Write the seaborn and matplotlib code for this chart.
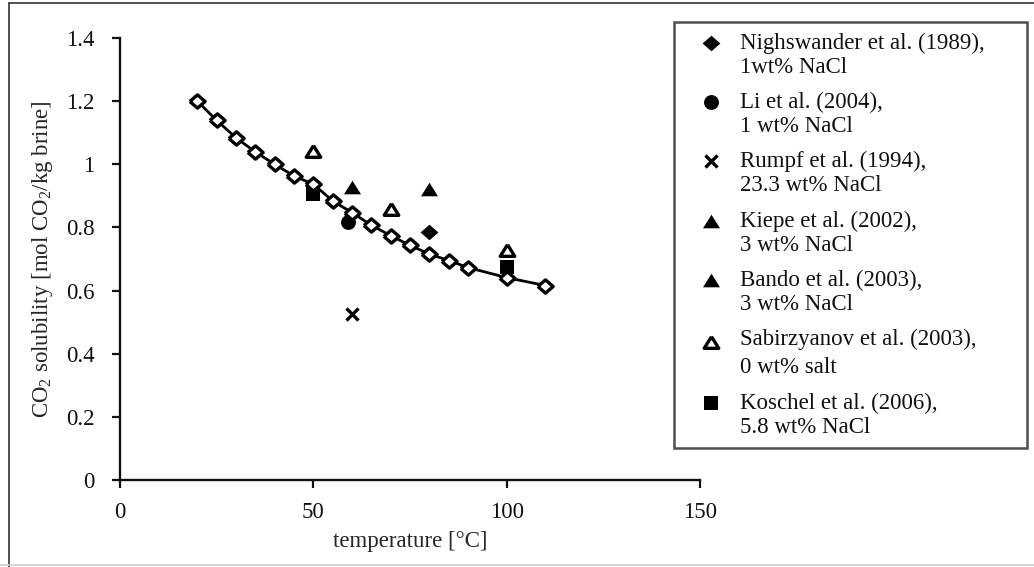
import matplotlib
matplotlib.use("Agg")
import matplotlib.pyplot as plt
import seaborn as sns
from matplotlib.lines import Line2D
from matplotlib.legend_handler import HandlerPathCollection

# Model curve: CO2 solubility vs temperature
model_t = [20, 25, 30, 35, 40, 45, 50, 55, 60, 65, 70, 75, 80, 85, 90, 100, 110]
model_s = [1.200, 1.139, 1.084, 1.039, 1.000, 0.963, 0.937, 0.884, 0.847,
           0.807, 0.774, 0.743, 0.716, 0.695, 0.673, 0.641, 0.616]

# Experimental data sets
nigh_t, nigh_s = [80], [0.784]
li_t, li_s = [59], [0.816]
rumpf_t, rumpf_s = [60], [0.527]
kiepe_t, kiepe_s = [80], [0.921]
bando_t, bando_s = [60], [0.927]
sabir_t, sabir_s = [50, 70, 100], [1.042, 0.858, 0.728]
kosch_t, kosch_s = [50, 100], [0.905, 0.676]

labels = [
    "Nighswander et al. (1989),\n1wt% NaCl",
    "Li et al. (2004),\n1 wt% NaCl",
    "Rumpf et al. (1994),\n23.3 wt% NaCl",
    "Kiepe et al. (2002),\n3 wt% NaCl",
    "Bando et al. (2003),\n3 wt% NaCl",
    "Sabirzyanov et al. (2003),\n0 wt% salt",
    "Koschel et al. (2006),\n5.8 wt% NaCl",
]

x_ticks = [0, 50, 100, 150]
y_ticks = [0, 0.2, 0.4, 0.6, 0.8, 1.0, 1.2, 1.4]
y_tick_labels = ["0", "0.2", "0.4", "0.6", "0.8", "1", "1.2", "1.4"]

# slightly wide diamond and triangle shapes
DIAMOND = [(-1.15, 0), (0, 1), (1.15, 0), (0, -1), (-1.15, 0)]
TRIANGLE = [(0, 1), (-1.25, -1), (1.25, -1), (0, 1)]


class FirstLineHandler(HandlerPathCollection):
    """Place the legend marker level with the first line of a two-line label."""

    def get_ydata(self, legend, xdescent, ydescent, width, height, fontsize):
        y = super().get_ydata(legend, xdescent, ydescent, width, height, fontsize)
        return [v + 0.62 * fontsize for v in y]


sns.set_style("ticks")
plt.rcParams["font.family"] = ["Liberation Serif", "DejaVu Serif"]
plt.rcParams["mathtext.fontset"] = "custom"
plt.rcParams["mathtext.rm"] = "Liberation Serif"
plt.rcParams["mathtext.it"] = "Liberation Serif:italic"
plt.rcParams["text.color"] = "#111111"

W, H = 1034, 567
fig = plt.figure(figsize=(W / 100, H / 100), dpi=100)
ax = fig.add_axes([120 / W, 87 / H, 580 / W, 442 / H])

fs = 16.5
pts = dict(color="black", zorder=2)
sns.scatterplot(x=nigh_t, y=nigh_s, marker=DIAMOND, s=165, linewidth=0, label=labels[0], ax=ax, **pts)
sns.scatterplot(x=li_t, y=li_s, marker="o", s=115, linewidth=0, label=labels[1], ax=ax, **pts)
sns.scatterplot(x=rumpf_t, y=rumpf_s, marker="x", s=75, linewidth=2.4, label=labels[2], ax=ax, **pts)
sns.scatterplot(x=kiepe_t, y=kiepe_s, marker=TRIANGLE, s=150, linewidth=0, label=labels[3], ax=ax, **pts)
sns.scatterplot(x=bando_t, y=bando_s, marker=TRIANGLE, s=150, linewidth=0, label=labels[4], ax=ax, **pts)
sns.scatterplot(x=sabir_t, y=sabir_s, marker=TRIANGLE, s=110, facecolor="white", edgecolor="black",
                linewidth=2.4, label=labels[5], ax=ax, zorder=2)
sns.scatterplot(x=kosch_t, y=kosch_s, marker="s", s=115, linewidth=0, label=labels[6], ax=ax, **pts)

sns.lineplot(x=model_t, y=model_s, color="black", linewidth=2, marker=DIAMOND, markersize=11,
             markerfacecolor="white", markeredgecolor="black", markeredgewidth=2.4,
             ax=ax, zorder=3, legend=False)

ax.set_xlim(0, 150)
ax.set_ylim(0, 1.4)
ax.set_xticks(x_ticks)
ax.set_xticklabels([str(t) for t in x_ticks])
ax.set_yticks(y_ticks)
ax.set_yticklabels(y_tick_labels)
ax.tick_params(axis="both", direction="out", length=5.5, width=1.6, color="#111111",
               labelsize=fs, labelcolor="#111111")
ax.tick_params(axis="y", pad=13)
ax.tick_params(axis="x", pad=10)
for side in ("top", "right"):
    ax.spines[side].set_visible(False)
for side in ("left", "bottom"):
    ax.spines[side].set_linewidth(1.7)
    ax.spines[side].set_color("#111111")

ax.set_xlabel("temperature [°C]", fontsize=fs, labelpad=6)
ax.set_ylabel("CO$_2$ solubility [mol CO$_2$/kg brine]", fontsize=fs, labelpad=8)

leg = ax.legend(loc="upper left",
                bbox_to_anchor=(674 / W, 1 - 22 / H, (1027 - 674) / W, 0.0),
                bbox_transform=fig.transFigure, mode="expand",
                fontsize=fs, frameon=True, fancybox=False, edgecolor="#222222",
                borderpad=0.45, handlelength=2.35, handletextpad=0.1,
                labelspacing=0.61, scatterpoints=1, borderaxespad=0,
                handler_map={matplotlib.collections.PathCollection: FirstLineHandler()})
leg.get_frame().set_linewidth(1.8)
leg.get_texts()[5].set_linespacing(1.45)

# outer frame of the figure
fig.add_artist(Line2D([8.5 / W, 8.5 / W], [0, 1 - 2.5 / H], transform=fig.transFigure,
                      color="#333333", linewidth=1.2))
fig.add_artist(Line2D([8.5 / W, 1], [1 - 2.5 / H, 1 - 2.5 / H], transform=fig.transFigure,
                      color="#333333", linewidth=1.2))
fig.add_artist(Line2D([0, 1], [2.5 / H, 2.5 / H], transform=fig.transFigure,
                      color="#cccccc", linewidth=1.2))

fig.savefig("out.png", dpi=100)
